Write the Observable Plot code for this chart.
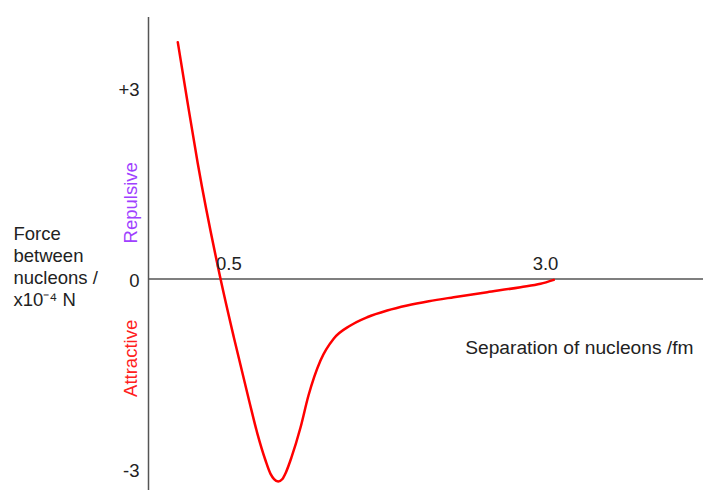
<!DOCTYPE html>
<html>
<head>
<meta charset="utf-8">
<script src="https://cdn.jsdelivr.net/npm/d3@7"></script>
<script src="https://cdn.jsdelivr.net/npm/@observablehq/plot@0.6"></script>
<style>
  html, body { margin: 0; padding: 0; background: #fff; }
  #chart svg { display: block; }
</style>
</head>
<body>
<div id="chart"></div>
<script>
// Separation of nucleons (fm) and force (x10^-4 N)
const separation = [0.217, 0.287, 0.365, 0.533, 0.632, 0.745, 0.807, 0.867, 0.904, 0.930, 0.961, 0.992, 1.017, 1.059, 1.126, 1.185, 1.274, 1.373, 1.496, 1.620, 1.768, 1.916, 2.076, 2.261, 2.509, 2.756, 2.904, 3.002];
const force      = [3.729, 2.811, 1.819, 0.008, -0.917, -1.913, -2.438, -2.858, -3.068, -3.150, -3.189, -3.150, -3.050, -2.810, -2.339, -1.835, -1.283, -0.937, -0.732, -0.602, -0.496, -0.417, -0.350, -0.287, -0.208, -0.129, -0.076, -0.013];

const yTickValues = [3, 0, -3];
const yTickLabels = ["+3", "0", "-3"];
const xTickValues = [0.5, 3.0];
const xTickLabels = ["0.5", "3.0"];

const yAxisExtent = [4.12, -3.4];
const xAxisExtent = [0, 4.2];

const curve = separation.map((s, i) => ({s, f: force[i]}));
const yTicks = yTickValues.map((v, i) => ({v, label: yTickLabels[i]}));
const xTicks = xTickValues.map((v, i) => ({v, label: xTickLabels[i]}));

const font = "'Liberation Sans', Arial, sans-serif";
const fs = 18.5;

const chart = Plot.plot({
  width: 703,
  height: 490,
  margin: 0,
  x: {domain: [-148 / 135, 555 / 135], axis: null},
  y: {domain: [-211.5 / 63.5, 278.5 / 63.5], axis: null},
  style: {fontFamily: font, background: "#fff"},
  marks: [
    Plot.ruleX([0], {y1: yAxisExtent[0], y2: yAxisExtent[1], stroke: "#555", strokeWidth: 1.5}),
    Plot.ruleY([0], {x1: xAxisExtent[0], x2: xAxisExtent[1], stroke: "#555", strokeWidth: 1.5}),
    Plot.line(curve, {x: "s", y: "f", stroke: "#ff0000", strokeWidth: 2.5, curve: "monotone-x"}),
    Plot.text(yTicks, {x: 0, y: "v", text: "label", textAnchor: "end", dx: -9, dy: 2, fontSize: fs, fill: "#222"}),
    Plot.text(xTicks.slice(0, 1), {x: "v", y: 0, text: "label", textAnchor: "start", dy: -15, fontSize: fs, fill: "#222"}),
    Plot.text(xTicks.slice(1), {x: "v", y: 0, text: "label", textAnchor: "middle", dx: -8, dy: -15, fontSize: fs, fill: "#222"}),
    Plot.text(["Separation of nucleons /fm"], {frameAnchor: "right", y: -1.08, textAnchor: "end", dx: -10, fontSize: 19.2, fill: "#222"}),
    Plot.text(["Force\nbetween\nnucleons /\nx10\u207B\u2074 N"], {frameAnchor: "left", y: 0.213, textAnchor: "start", dx: 13, lineHeight: 1.19, fontSize: fs, fill: "#222"}),
    Plot.text(["Repulsive"], {x: 0, y: 1.2, rotate: -90, dx: -17, fontSize: fs, fill: "#a040ff"}),
    Plot.text(["Attractive"], {x: 0, y: -1.25, rotate: -90, dx: -17, fontSize: fs, fill: "#ff2020"})
  ]
});
document.getElementById("chart").append(chart);
</script>
</body>
</html>
